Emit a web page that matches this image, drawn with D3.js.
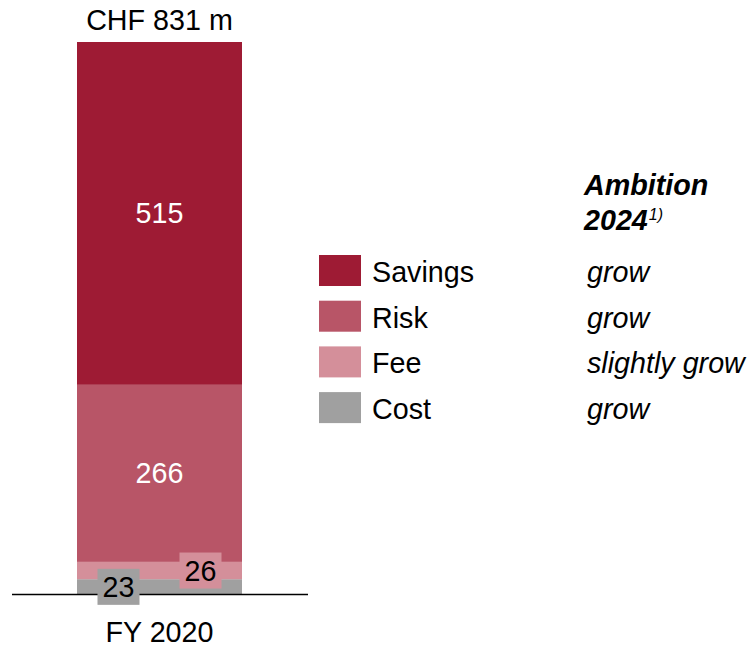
<!DOCTYPE html>
<html>
<head>
<meta charset="utf-8">
<script src="https://cdn.jsdelivr.net/npm/d3@7"></script>
<style>
  html, body { margin: 0; padding: 0; background: #fff; }
  svg { display: block; font-family: "Liberation Sans", Arial, sans-serif; }
</style>
</head>
<body>
<svg id="chart" width="753" height="647"></svg>
<script>
// Earnings composition, FY 2020 (CHF m)
const categories = ["FY 2020"];
const segments = ["Cost", "Fee", "Risk", "Savings"];   // bottom to top
const segmentValues = [23, 26, 266, 515];
const totalLabel = "CHF 831 m";
const ambitionTitle = ["Ambition", "2024"];
const ambitionNote = "1)";
const legendOrder = ["Savings", "Risk", "Fee", "Cost"];
const ambitionText = ["grow", "grow", "slightly grow", "grow"];

const colors = {
  Savings: "#9e1b34",
  Risk: "#b85567",
  Fee: "#d48f9a",
  Cost: "#a0a0a0"
};

const svg = d3.select("#chart");
const fontSize = 28.7;

const x = d3.scaleBand().domain(categories).range([77, 242]).padding(0);
const total = d3.sum(segmentValues);
const y = d3.scaleLinear().domain([0, total]).range([594.5, 42]);

// stack the segments
const row = { cat: categories[0] };
segments.forEach((s, i) => row[s] = segmentValues[i]);
const stacked = d3.stack().keys(segments)([row]);

svg.append("g").selectAll("rect")
  .data(stacked)
  .join("rect")
  .attr("x", x(categories[0]))
  .attr("width", x.bandwidth())
  .attr("y", d => y(d[0][1]))
  .attr("height", d => y(d[0][0]) - y(d[0][1]))
  .attr("fill", d => colors[d.key]);

// baseline
svg.append("line")
  .attr("x1", 12).attr("x2", 308)
  .attr("y1", y(0)).attr("y2", y(0))
  .attr("stroke", "#000").attr("stroke-width", 1.5);

// total on top
svg.append("text")
  .attr("x", x(categories[0]) + x.bandwidth() / 2)
  .attr("y", 30)
  .attr("text-anchor", "middle")
  .attr("font-size", fontSize)
  .attr("fill", "#000")
  .text(totalLabel);

// category label
svg.append("text")
  .attr("x", x(categories[0]) + x.bandwidth() / 2)
  .attr("y", 642)
  .attr("text-anchor", "middle")
  .attr("font-size", fontSize)
  .attr("fill", "#000")
  .text(categories[0]);

// value labels: large segments inside, small ones in tag boxes
const bandMid = x(categories[0]) + x.bandwidth() / 2;
const labelPos = {
  Savings: { dx: 0, box: false },
  Risk: { dx: 0, box: false },
  Fee: { dx: 41, box: true },
  Cost: { dx: -41, box: true }
};

stacked.forEach(s => {
  const v = s[0][1] - s[0][0];
  const cy = (y(s[0][0]) + y(s[0][1])) / 2;
  const p = labelPos[s.key];
  const cx = bandMid + p.dx;
  if (p.box) {
    svg.append("rect")
      .attr("x", cx - 21).attr("y", cy - 18)
      .attr("width", 42).attr("height", 36)
      .attr("fill", colors[s.key]);
  }
  svg.append("text")
    .attr("x", cx)
    .attr("y", cy + 10)
    .attr("text-anchor", "middle")
    .attr("font-size", fontSize)
    .attr("fill", p.box ? "#000" : "#fff")
    .text(v);
});

// ambition column header
svg.append("text")
  .attr("x", 584).attr("y", 195)
  .attr("font-size", fontSize)
  .attr("font-weight", "bold").attr("font-style", "italic")
  .text(ambitionTitle[0]);
const t2 = svg.append("text")
  .attr("x", 584).attr("y", 230)
  .attr("font-size", fontSize)
  .attr("font-weight", "bold").attr("font-style", "italic");
t2.append("tspan").text(ambitionTitle[1]);
t2.append("tspan")
  .attr("font-weight", "normal")
  .attr("font-size", 16)
  .attr("dy", -10)
  .attr("dx", 1)
  .text(ambitionNote);

// legend rows
const legendTop = 255, legendStep = 45.7;
const lg = svg.append("g").selectAll("g")
  .data(legendOrder)
  .join("g")
  .attr("transform", (d, i) => `translate(0,${legendTop + i * legendStep})`);

lg.append("rect")
  .attr("x", 319).attr("y", 0)
  .attr("width", 42).attr("height", 31)
  .attr("fill", d => colors[d]);

lg.append("text")
  .attr("x", 372).attr("y", 27)
  .attr("font-size", fontSize)
  .attr("fill", "#000")
  .text(d => d);

lg.append("text")
  .attr("x", 587).attr("y", 27)
  .attr("font-size", fontSize)
  .attr("font-style", "italic")
  .attr("fill", "#000")
  .text((d, i) => ambitionText[i]);
</script>
</body>
</html>
